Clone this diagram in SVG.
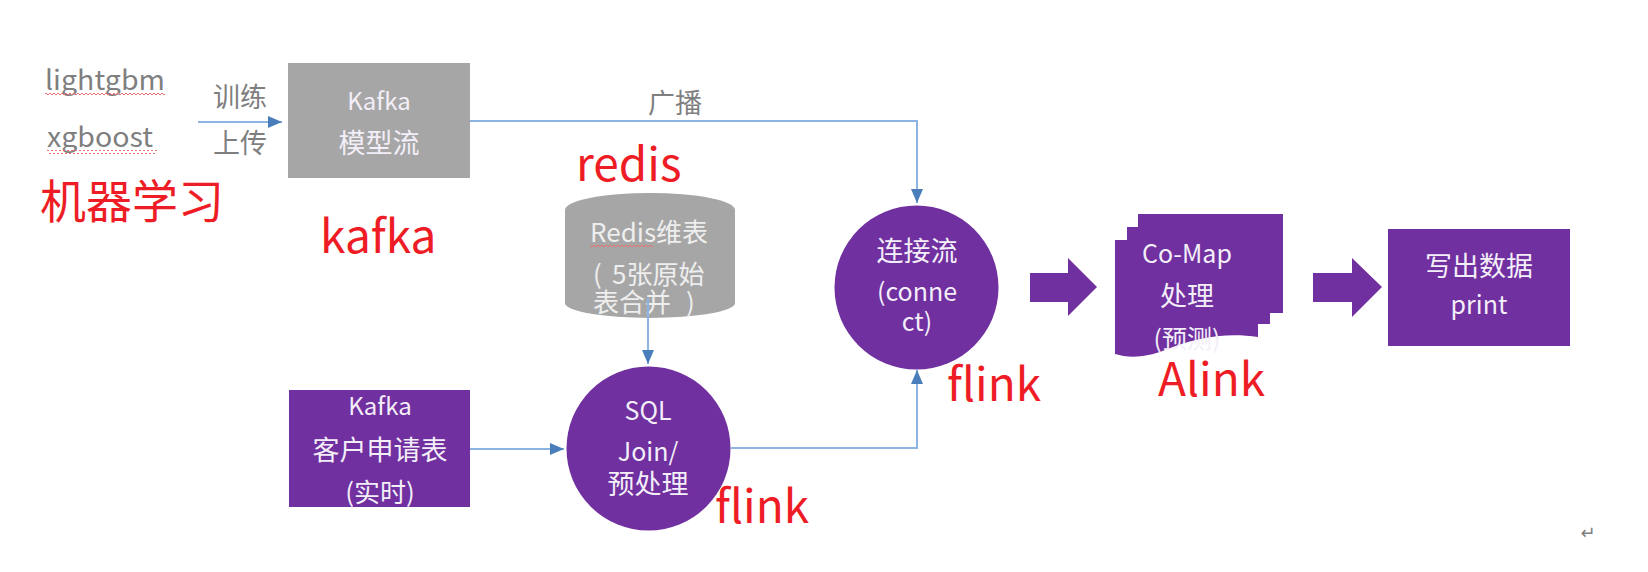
<svg xmlns="http://www.w3.org/2000/svg" width="1648" height="572" viewBox="0 0 1648 572">
<style>
text{font-family:"Noto Sans CJK SC","Noto Sans",sans-serif;}
.lbl{fill:#7f7f7f;font-size:27px;}
.red{fill:#ee1c25;font-size:46px;}
.nt{fill:#f3eef8;text-anchor:middle;}
.gt{fill:#eeeeee;font-size:26px;}
.purple{fill:#7030a0;}
.gray{fill:#a6a6a6;}
.conn{fill:none;stroke:#8db3e2;stroke-width:2;}
</style>
<defs>
<marker id="arr" markerUnits="userSpaceOnUse" markerWidth="16" markerHeight="12" refX="14" refY="6" orient="auto">
<path d="M0,0 L14,6 L0,12 Z" fill="#4a7ebb"/>
</marker>
<pattern id="squiggle" width="4" height="4" patternUnits="userSpaceOnUse">
<path d="M0,3 L2,1 L4,3" fill="none" stroke="#e57373" stroke-width="1"/>
</pattern>
</defs>
<rect width="1648" height="572" fill="#ffffff"/>

<g id="ml-labels">
<text class="lbl" x="45" y="90" font-size="28" textLength="120" lengthAdjust="spacingAndGlyphs">lightgbm</text>
<rect x="45" y="93" width="120" height="4" fill="url(#squiggle)"/>
<text class="lbl" x="47" y="147" font-size="28" textLength="106" lengthAdjust="spacingAndGlyphs">xgboost</text>
<rect x="47" y="150" width="110" height="4" fill="url(#squiggle)"/>
<text class="red" x="40" y="218" font-size="45">机器学习</text>
</g>

<g id="connectors">
<path class="conn" d="M198,122 H282" marker-end="url(#arr)"/>
<path class="conn" d="M470,121 H917 V203" marker-end="url(#arr)"/>
<path class="conn" d="M470,449 H564" marker-end="url(#arr)"/>
<path class="conn" d="M731,448 H917 V370" marker-end="url(#arr)"/>
<polygon class="purple" points="1030,273 1068,273 1068,258 1097,287 1068,316 1068,302 1030,302"/>
<polygon class="purple" points="1313,273 1352,273 1352,258 1382,287 1352,317 1352,302 1313,302"/>
<text class="lbl" x="240" y="107" text-anchor="middle">训练</text>
<text class="lbl" x="240" y="153" text-anchor="middle">上传</text>
<text class="lbl" x="675" y="113" text-anchor="middle">广播</text>
</g>

<g id="kafka-model">
<rect class="gray" x="288" y="63" width="182" height="115"/>
<text class="nt" x="379" y="110" font-size="24">Kafka</text>
<text class="nt" x="379" y="153" font-size="27">模型流</text>
<text class="red" x="320" y="253">kafka</text>
</g>

<g id="redis">
<text class="red" x="576" y="181">redis</text>
<path class="gray" d="M565,210 A85,17 0 0 1 735,210 V303 A85,15 0 0 1 565,303 Z"/>
<text class="gt" x="590" y="242">Redis维表</text>
<rect x="590" y="245" width="63" height="4" fill="url(#squiggle)"/>
<text class="gt" y="284"><tspan x="593">(</tspan><tspan x="612">5张原始</tspan></text>
<text class="gt" y="312"><tspan x="593">表合并</tspan><tspan x="686">)</tspan></text>
<path class="conn" d="M648,298 V364" marker-end="url(#arr)"/>
</g>

<g id="kafka-apply">
<rect class="purple" x="289" y="390" width="181" height="117"/>
<text class="nt" x="380" y="415" font-size="24">Kafka</text>
<text class="nt" x="380" y="460" font-size="27">客户申请表</text>
<text class="nt" x="380" y="502" font-size="26">(实时)</text>
</g>

<g id="sql-join">
<circle class="purple" cx="648.5" cy="448.5" r="82"/>
<text class="nt" x="648" y="420" font-size="25">SQL</text>
<text class="nt" x="648" y="461" font-size="25">Join/</text>
<text class="nt" x="648" y="494" font-size="27">预处理</text>
<text class="red" x="715" y="523">flink</text>
</g>

<g id="connect">
<circle class="purple" cx="916.5" cy="287.5" r="82"/>
<text class="nt" x="917" y="261" font-size="27">连接流</text>
<text class="nt" x="917" y="301" font-size="25">(conne</text>
<text class="nt" x="917" y="331" font-size="25">ct)</text>
<text class="red" x="947" y="401">flink</text>
</g>

<g id="comap">
<rect class="purple" x="1138" y="214" width="145" height="99"/>
<rect class="purple" x="1127" y="227" width="143" height="97"/>
<path class="purple" d="M1115,240 H1258 V337 C1225,332 1195,338 1165,350 C1145,358 1128,358 1115,354 Z"/>
<text class="nt" x="1187" y="263" font-size="25">Co-Map</text>
<text class="nt" x="1187" y="306" font-size="27">处理</text>
<text class="nt" x="1187" y="348" font-size="25">(预测)</text>
<text class="red" x="1158" y="396">Alink</text>
</g>

<g id="output">
<rect class="purple" x="1388" y="229" width="182" height="117"/>
<text class="nt" x="1479" y="276" font-size="27">写出数据</text>
<text class="nt" x="1479" y="314" font-size="25">print</text>
</g>

<text x="1588" y="539" font-size="18" fill="#808080" style="font-family:'DejaVu Sans',sans-serif" text-anchor="middle">↵</text>
</svg>
